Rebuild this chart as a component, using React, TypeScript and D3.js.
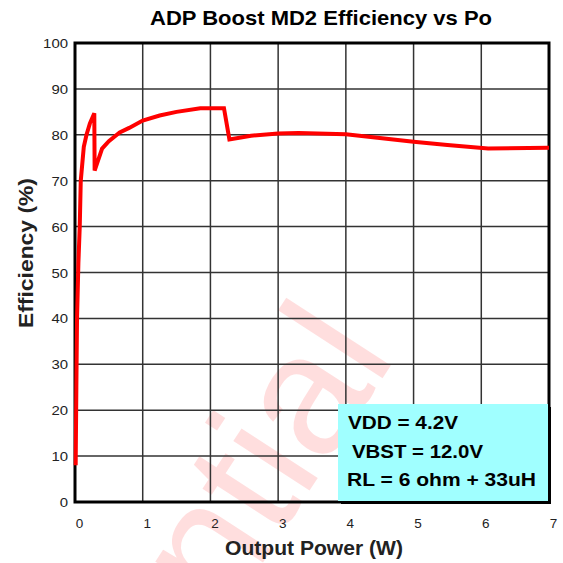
import React from "react";
import * as d3 from "d3";

const title = "ADP Boost MD2 Efficiency vs Po";
const xLabel = "Output Power (W)";
const yLabel = "Efficiency (%)";
const xTicks = [0, 1, 2, 3, 4, 5, 6, 7];
const yTicks = [0, 10, 20, 30, 40, 50, 60, 70, 80, 90, 100];
const powerW = [0.01, 0.02, 0.03, 0.05, 0.07, 0.085, 0.13, 0.17, 0.22, 0.285, 0.29, 0.4, 0.5, 0.66, 0.8, 1.0, 1.25, 1.5, 1.85, 2.2, 2.28, 2.6, 3.0, 3.3, 4.0, 4.5, 5.0, 5.5, 6.1, 7.0];
const efficiency = [8, 25, 40, 52, 60, 70, 77.4, 80, 82.5, 84.7, 72.2, 77.0, 78.6, 80.5, 81.5, 83.1, 84.2, 85.0, 85.8, 85.8, 79.0, 79.8, 80.3, 80.4, 80.1, 79.3, 78.5, 77.8, 77.0, 77.2];
const notes = ["VDD = 4.2V", "VBST = 12.0V", "RL = 6 ohm + 33uH"];
const watermark = "Confidential";

export default function App() {
  const W = 563, H = 563;
  const left = 75, right = 549, top = 43, bottom = 502;
  const x = d3.scaleLinear().domain([0, 7]).range([left, right]);
  const y = d3.scaleLinear().domain([0, 100]).range([bottom, top]);
  const pts = powerW.map((p, i) => [p, efficiency[i]] as [number, number]);
  const line = d3.line<[number, number]>().x(d => x(d[0])).y(d => y(d[1]));
  const font = "Liberation Sans, Arial, sans-serif";
  const bx = 338, by = 404, bw = 210, bh = 97;
  const noteX = [348, 352, 347];
  const noteY = [429, 458, 486];
  const noteW = [110, 131, 189];
  return (
    <svg width={W} height={H} style={{ position: "absolute", left: 0, top: 0 }} fontFamily={font}>
      <rect width={W} height={H} fill="#fff" />
      <text x={150} y={25} fontSize={20.5} fontWeight="bold" fill="#000" textLength={342} lengthAdjust="spacingAndGlyphs">{title}</text>
      <text transform="translate(397,356) rotate(-57)" textAnchor="end" fontSize={172} fill="#ff0000" fillOpacity={0.13}>{watermark}</text>
      {xTicks.map(t => (
        <line key={"gx" + t} x1={x(t)} x2={x(t)} y1={top} y2={bottom} stroke="#333" strokeWidth={1.5} />
      ))}
      {yTicks.map(t => (
        <line key={"gy" + t} x1={left} x2={right} y1={y(t)} y2={y(t)} stroke="#333" strokeWidth={1.5} />
      ))}
      <rect x={left} y={top} width={right - left} height={bottom - top} fill="none" stroke="#000" strokeWidth={3} />
      {yTicks.map(t => (
        <text key={"ty" + t} x={68} y={y(t) + 5} textAnchor="end" fontSize={13.5} fill="#222" textLength={String(t).length * 8.3} lengthAdjust="spacingAndGlyphs">{t}</text>
      ))}
      {xTicks.map(t => (
        <text key={"tx" + t} x={x(t) + 4.5} y={528} textAnchor="middle" fontSize={13.5} fill="#222">{t}</text>
      ))}
      <text x={225} y={555} fontSize={19.5} fontWeight="bold" fill="#222" textLength={178} lengthAdjust="spacingAndGlyphs">{xLabel}</text>
      <text transform="translate(33,328) rotate(-90)" fontSize={19.5} fontWeight="bold" fill="#222" textLength={150} lengthAdjust="spacingAndGlyphs">{yLabel}</text>
      <path d={line(pts) || ""} fill="none" stroke="#ff0000" strokeWidth={4} strokeLinejoin="miter" />
      <rect x={bx + 3} y={by + 3} width={bw} height={bh} fill="#000" />
      <rect x={bx} y={by} width={bw} height={bh} fill="#a0ffff" />
      {notes.map((n, i) => (
        <text key={n} x={noteX[i]} y={noteY[i]} fontSize={18.5} fontWeight="bold" fill="#000" textLength={noteW[i]} lengthAdjust="spacingAndGlyphs">{n}</text>
      ))}
    </svg>
  );
}
